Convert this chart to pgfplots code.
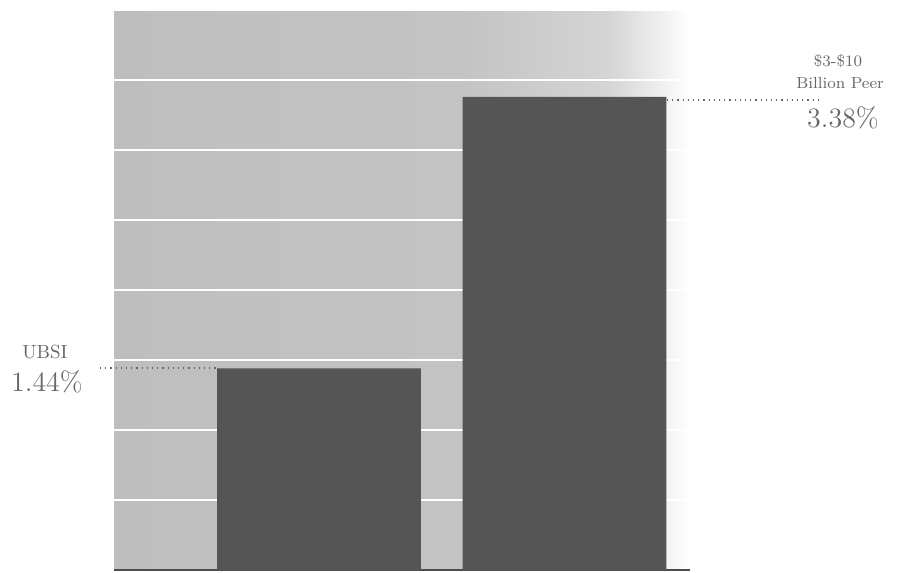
\documentclass[border=0pt]{standalone}
\usepackage{pgfplots}
\pgfplotsset{compat=1.18}
\definecolor{bggray}{HTML}{BEBEBE}
\definecolor{barcol}{HTML}{555555}
\definecolor{txtcol}{HTML}{666666}
\pgfdeclarehorizontalshading{bgfade}{100bp}{color(0bp)=(bggray); color(25bp)=(bggray); color(55bp)=(bggray!92); color(68bp)=(bggray!65); color(75bp)=(white); color(100bp)=(white)}
\begin{document}
\begin{tikzpicture}
\useasboundingbox (-57pt,-1pt) rectangle (397pt,285pt);
\begin{axis}[
    at={(0,0)}, anchor=south west,
    scale only axis,
    width=288pt, height=280pt,
    ybar, bar width=0.83,
    xmin=0.165, xmax=2.511,
    ymin=0, ymax=4,
    ytick={0,0.5,...,4},
    ymajorgrids,
    grid style={white, line width=1pt},
    axis x line*=bottom,
    axis y line*=left,
    x axis line style={-, black!70, line width=0.6pt},
    y axis line style={draw=none},
    xtick=\empty, major tick length=0pt,
    yticklabels={},
    axis background/.style={shading=bgfade},
    clip=false,
]
\addplot[fill=barcol, draw=none] coordinates {(1,1.44) (2,3.38)};
\end{axis}
% leader lines
\draw[txtcol, dotted, line width=0.6pt] (-7pt,101pt) -- (52pt,101pt);
\draw[txtcol, dotted, line width=0.6pt] (276.5pt,235pt) -- (354pt,235pt);
% labels
\node[txtcol, font=\fontsize{9.5}{11}\selectfont] at (-34.5pt,109pt) {UBSI};
\node[txtcol, font=\fontsize{14}{16}\selectfont] at (-33.5pt,94pt) {1.44\%};
\node[txtcol, font=\fontsize{8}{9.5}\selectfont] at (362pt,254.5pt) {\$3-\$10};
\node[txtcol, font=\fontsize{8}{9.5}\selectfont] at (363pt,243.5pt) {Billion Peer};
\node[txtcol, font=\fontsize{14}{16}\selectfont] at (364.5pt,226pt) {3.38\%};
\end{tikzpicture}
\end{document}
